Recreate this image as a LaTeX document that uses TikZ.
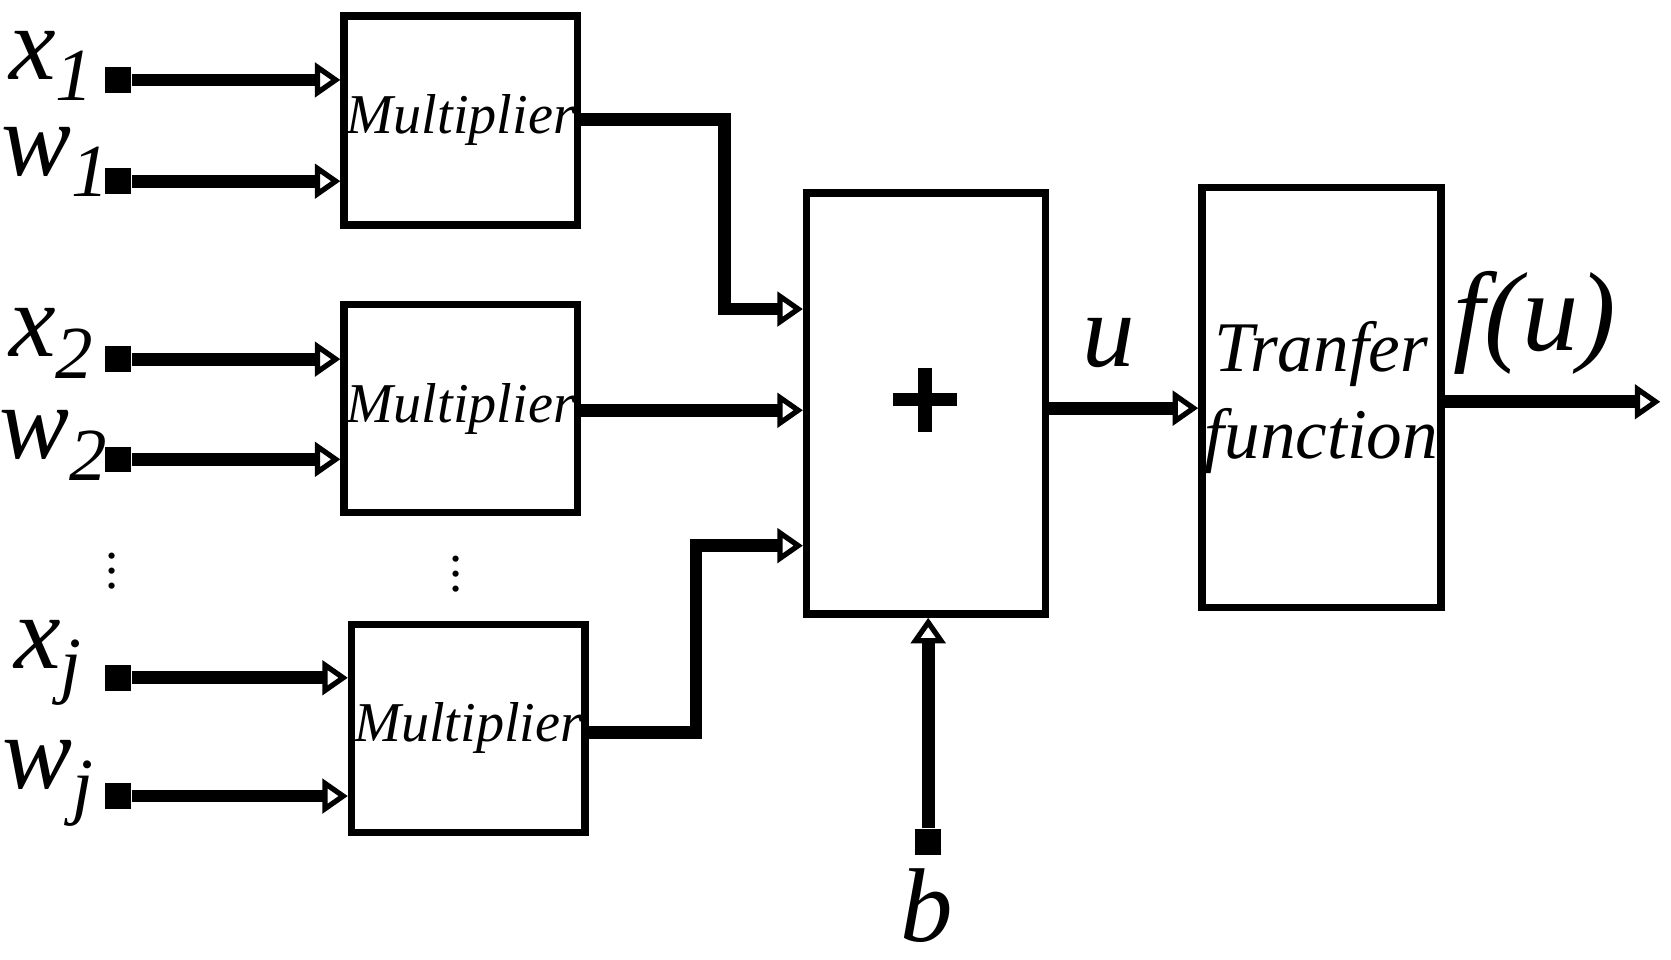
\documentclass[tikz,border=0pt]{standalone}
\usepackage{fontspec}
\setmainfont{Liberation Serif}[ItalicFont={Liberation Serif Italic}]
\usetikzlibrary{arrows.meta}
\newcommand{\mysub}[1]{\raisebox{-0.45ex}{\fontsize{20}{20}\selectfont\itshape #1}}
\begin{document}
\begin{tikzpicture}[x=0.01cm,y=-0.01cm,
  box/.style={draw,line width=2pt,inner sep=0pt},
  wire/.style={line width=3.4pt,-{Triangle[open,length=0.24cm,width=0.32cm,line width=1.4pt]}},
  src/.style={fill=black,minimum size=0.24cm,inner sep=0pt},
  lab/.style={font=\fontsize{28}{28}\selectfont\itshape,inner sep=0pt},
  txt/.style={font=\fontsize{15}{15}\selectfont\itshape,align=center}]
\useasboundingbox (0,0) rectangle (1568,900);
\node[box,minimum width=2.19cm,minimum height=1.96cm] (m1) at (432.5,113) {};
\node[box,minimum width=2.19cm,minimum height=1.95cm] (m2) at (432.5,383.5) {};
\node[box,minimum width=2.19cm,minimum height=1.95cm] (m3) at (439.5,683.5) {};
\node[txt] at (m1) {Multiplier};
\node[txt] at (m2) {Multiplier};
\node[txt] at (m3) {Multiplier};
\node[box,minimum width=2.24cm,minimum height=3.95cm] (s) at (869,378.5) {};
\draw[line width=3.5pt] (838,375) -- (898,375) (868,345) -- (868,405);
\node[box,minimum width=2.24cm,minimum height=3.94cm] (t) at (1240,373) {};
\node[txt,font=\fontsize{19}{23}\selectfont\itshape] at (t) {Tranfer\\function};
\foreach \n/\y in {a/75,b/170,c/337,d/431,e/636,f/747}{\node[src] (\n) at (111,\y) {};}
\draw[wire] (a) -- (m1.west|-a);
\draw[wire] (b) -- (m1.west|-b);
\draw[wire] (c) -- (m2.west|-c);
\draw[wire] (d) -- (m2.west|-d);
\draw[wire] (e) -- (m3.west|-e);
\draw[wire] (f) -- (m3.west|-f);
\node[lab] at (48,62) {x\mysub{1}};
\node[lab] at (52,152) {w\mysub{1}};
\node[lab] at (48,322) {x\mysub{2}};
\node[lab] at (50,418) {w\mysub{2}};
\node[lab] at (45,622) {x\mysub{j}};
\node[lab] at (45,735) {w\mysub{j}};
\node[font=\fontsize{14}{14}\selectfont] at (105,525) {$\vdots$};
\node[font=\fontsize{14}{14}\selectfont] at (428,528) {$\vdots$};
\coordinate (k1) at (680,112); \coordinate (k1b) at (680,290);
\draw[wire] (m1.east|-k1) -- (k1) -- (k1b) -- (s.west|-k1b);
\draw[wire] (m2.east|-0,385) -- (s.west|-0,385);
\coordinate (k3) at (653,687); \coordinate (k3b) at (653,512);
\draw[wire] (m3.east|-k3) -- (k3) -- (k3b) -- (s.west|-k3b);
\node[src] (bb) at (871,790) {};
\draw[wire] (bb) -- (s.south-|bb);
\node[lab] at (870,850) {b};
\draw[wire] (s.east|-0,383) -- (t.west|-0,383);
\node[lab] at (1040,322) {u};
\coordinate (out) at (1558,377);
\draw[wire] (t.east|-out) -- (out);
\node[lab,font=\fontsize{30}{30}\selectfont\itshape] at (1440,303) {f(u)};
\end{tikzpicture}
\end{document}
